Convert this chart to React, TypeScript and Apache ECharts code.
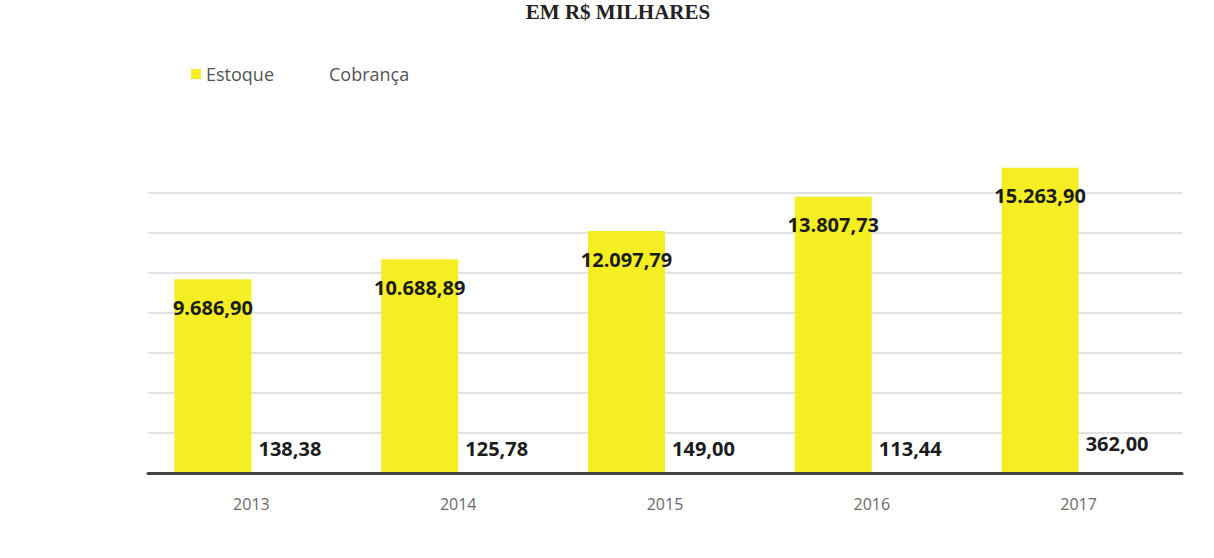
import React, { useEffect, useRef } from "react";
import * as echarts from "echarts";

const categories = ["2013", "2014", "2015", "2016", "2017"];
const estoque = [9686.9, 10688.89, 12097.79, 13807.73, 15263.9];
const cobranca = [138.38, 125.78, 149.0, 113.44, 362.0];
const seriesNames = ["Estoque", "Cobrança"];
const titleText = "EM R$ MILHARES";

const fmt = (v: number) =>
  v.toLocaleString("pt-BR", { minimumFractionDigits: 2, maximumFractionDigits: 2 });

export default function App() {
  const ref = useRef<HTMLDivElement>(null);
  useEffect(() => {
    document.body.style.margin = "0";
    if (!ref.current) return;
    const chart = echarts.init(ref.current, undefined, { renderer: "svg" });
    const labelStyle = {
      show: true,
      fontFamily: "Open Sans",
      fontWeight: "bold" as const,
      fontSize: 20,
      color: "#1c1c1c",
      formatter: (p: any) => fmt(p.value),
    };
    chart.setOption({
      animation: false,
      backgroundColor: "#ffffff",
      graphic: [
        {
          type: "text",
          x: 618,
          y: 1,
          style: {
            text: titleText,
            align: "center",
            verticalAlign: "top",
            fontFamily: "Liberation Serif",
            fontWeight: "bold",
            fontSize: 21,
            fill: "#222",
          },
        },
      ],
      legend: {
        left: 186,
        top: 60,
        itemWidth: 10,
        itemHeight: 10,
        itemGap: 40,
        icon: "rect",
        textStyle: { fontFamily: "Open Sans", fontSize: 18, color: "#555" },
        data: seriesNames,
      },
      grid: { left: 148, right: 32, top: 153, bottom: 85 },
      xAxis: {
        type: "category",
        data: categories,
        z: 5,
        axisLine: { lineStyle: { color: "#444", width: 3 } },
        axisTick: { show: false },
        axisLabel: {
          fontFamily: "Open Sans",
          fontSize: 16,
          color: "#6a6a6a",
          margin: 23,
        },
      },
      yAxis: {
        type: "value",
        min: 0,
        max: 16000,
        interval: 2000,
        axisLabel: { show: false },
        axisLine: { show: false },
        axisTick: { show: false },
        splitLine: {
          showMaxLine: false,
          lineStyle: { color: "#d8d8d8", width: 1.5 },
        },
      },
      series: [
        {
          name: seriesNames[0],
          type: "bar",
          data: estoque,
          barWidth: 77,
          barGap: "0%",
          itemStyle: { color: "#f4ee22" },
          label: { ...labelStyle, position: "insideTop", distance: 18 },
        },
        {
          name: seriesNames[1],
          type: "bar",
          data: cobranca,
          barWidth: 77,
          barGap: "0%",
          itemStyle: { color: "rgba(255,255,255,0)" },
          label: { ...labelStyle, position: "top", distance: 12 },
        },
      ],
    });
    return () => chart.dispose();
  }, []);
  return <div ref={ref} style={{ width: 1214, height: 558 }} />;
}
